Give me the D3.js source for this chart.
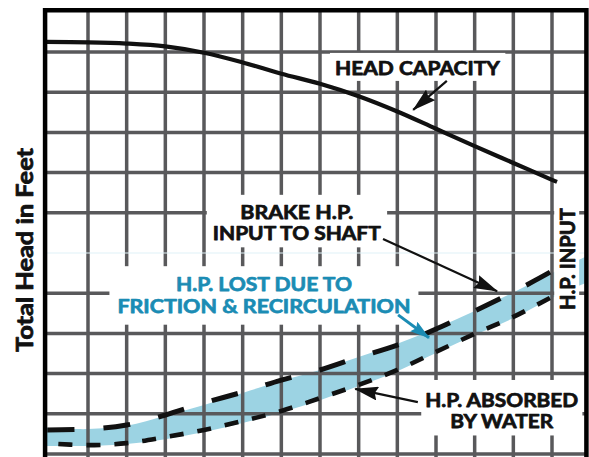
<!DOCTYPE html>
<html><head><meta charset="utf-8">
<script src="https://cdn.jsdelivr.net/npm/d3@7"></script>
<style>html,body{margin:0;padding:0;background:#fff}svg{display:block}</style>
</head><body><svg id="c" width="589" height="457"></svg>
<script>
// ---- data (x = flow in grid units, y = head in grid units) ----
const headFlow      = [-1.1, 0, 1, 2, 3, 4, 5, 6, 7, 8, 9, 10, 11, 12, 12.13];
const headCapacity  = [10.25, 10.24, 10.21, 10.14, 9.98, 9.74, 9.46, 9.21, 8.90, 8.52, 8.09, 7.66, 7.24, 6.82, 6.77];
const brakeFlow     = [-1.1, 0, 1, 2, 3, 4, 5, 6, 7, 8, 9, 10, 11, 12, 12.08];
const brakeHP       = [0.60, 0.62, 0.72, 0.97, 1.27, 1.54, 1.84, 2.09, 2.41, 2.71, 3.11, 3.56, 4.03, 4.55, 4.60];
const waterFlow     = [-1.1, 0, 1, 2, 3, 4, 5, 6, 7, 8, 9, 10, 11, 12];
const waterHP       = [0.27, 0.22, 0.27, 0.42, 0.60, 0.82, 1.07, 1.39, 1.72, 2.09, 2.54, 2.99, 3.41, 3.91];
const lostFlow      = [-1.1, 0, 1, 2, 3, 4, 5, 6, 7, 8, 9, 10, 11, 12, 12.85];
const lostUpper     = [0.65, 0.62, 0.70, 0.95, 1.22, 1.52, 1.82, 2.09, 2.41, 2.74, 3.13, 3.56, 4.02, 4.50, 4.90];
const lostLower     = [0.20, 0.20, 0.25, 0.37, 0.55, 0.77, 1.04, 1.34, 1.69, 2.06, 2.51, 2.96, 3.38, 3.88, 4.25];
const gridX = [0,1,2,3,4,5,6,7,8,9,10,11,12];
const gridY = [0,1,2,3,4,6,7,8,9,10];
const faintY = [5];
const yAxisLabel = "Total Head in Feet";

const svg = d3.select('#c');
const x = d3.scaleLinear().domain([0, 12]).range([88, 552]);
const y = d3.scaleLinear().domain([0, 10]).range([454, 52]);
const frame = {x0: -1.11, x1: 12.89, y0: -0.1, y1: 11.04};
const L = x(frame.x0), R = x(frame.x1), T = y(frame.y1), B = y(frame.y0);

svg.append('rect').attr('width',589).attr('height',457).attr('fill','#fff');
const defs = svg.append('defs');
defs.append('clipPath').attr('id','plot').append('rect')
  .attr('x',L).attr('y',T).attr('width',R-L).attr('height',B-T);
function marker(id, color, w, h){
  defs.append('marker').attr('id',id).attr('viewBox',`0 0 ${w} ${h}`)
    .attr('refX',w-1).attr('refY',h/2).attr('markerWidth',w).attr('markerHeight',h)
    .attr('markerUnits','userSpaceOnUse').attr('orient','auto')
    .append('path').attr('d',`M0,0 L${w},${h/2} L0,${h} L3,${h/2} Z`).attr('fill',color);
}
marker('ahk','#111', 24, 14);
marker('ahb','#1b8cb4', 20, 12);

const g = svg.append('g').attr('clip-path','url(#plot)');
const zip = (xs, ys) => xs.map((v,i)=>[v, ys[i]]);

// band
g.append('path')
  .datum(lostFlow.map((v,i)=>({x:v, hi:lostUpper[i], lo:lostLower[i]})))
  .attr('fill','#9cd3e3')
  .attr('d', d3.area().x(d=>x(d.x)).y0(d=>y(d.lo)).y1(d=>y(d.hi)).curve(d3.curveCatmullRom.alpha(0.5)));

// grid
g.selectAll('.vg').data(gridX).join('line')
  .attr('x1',d=>x(d)).attr('x2',d=>x(d)).attr('y1',T).attr('y2',B+5)
  .attr('stroke','#59595b').attr('stroke-width',3.5);
g.selectAll('.hg').data(gridY).join('line')
  .attr('y1',d=>y(d)).attr('y2',d=>y(d)).attr('x1',L).attr('x2',R)
  .attr('stroke','#59595b').attr('stroke-width',3.5);
g.selectAll('.fg').data(faintY).join('line')
  .attr('y1',d=>y(d)).attr('y2',d=>y(d)).attr('x1',L).attr('x2',R)
  .attr('stroke','#dff2f8').attr('stroke-width',1.2);

// curves
const line = d3.line().x(d=>x(d[0])).y(d=>y(d[1])).curve(d3.curveCatmullRom.alpha(0.5));
g.append('path').datum(zip(headFlow, headCapacity)).attr('d',line)
  .attr('fill','none').attr('stroke','#111').attr('stroke-width',4.2);
g.append('path').datum(zip(brakeFlow, brakeHP)).attr('d',line)
  .attr('fill','none').attr('stroke','#111').attr('stroke-width',5)
  .attr('stroke-dasharray','27,29').attr('stroke-dashoffset',-2);
g.append('path').datum(zip(waterFlow, waterHP)).attr('d',line)
  .attr('fill','none').attr('stroke','#111').attr('stroke-width',4.6)
  .attr('stroke-dasharray','14,14').attr('stroke-dashoffset',-13);

// frame
svg.append('path').attr('d',`M${L},${B} V${T} H${R} V${B}`)
  .attr('fill','none').attr('stroke','#000').attr('stroke-width',4.5)
  .attr('stroke-linejoin','miter');

// labels
const FONT = 'Lato, "Liberation Sans", Arial, sans-serif';
function styleText(sel, color, size){
  return sel.attr('font-family',FONT).attr('font-weight',700).attr('font-size',size)
    .attr('fill',color).attr('stroke',color).attr('stroke-width',0.75)
    .attr('stroke-linejoin','round').attr('lengthAdjust','spacingAndGlyphs');
}
const labels = [
  {lines:["HEAD CAPACITY"], cx:8.52, by:9.43, len:[165], color:'#111', pad:[5,3,2]},
  {lines:["BRAKE H.P.","INPUT TO SHAFT"], cx:5.40, by:5.85, len:[113,168], color:'#111', pad:[6,5,3]},
  {lines:["H.P. LOST DUE TO","FRICTION & RECIRCULATION"], cx:4.55, by:4.05, len:[176,293], color:'#1b8cb4', pad:[8,6,8]},
  {lines:["H.P. ABSORBED","BY WATER"], cx:10.70, by:1.17, len:[153,103], color:'#111', pad:[4,8,3]},
];
const lineGap = 21.5;
labels.forEach(lb=>{
  const grp = svg.append('g');
  const bg = grp.append('rect').attr('fill','#fff');
  lb.lines.forEach((t,i)=>{
    styleText(grp.append('text').text(t)
      .attr('x', x(lb.cx)).attr('y', y(lb.by)+i*lineGap)
      .attr('text-anchor','middle'), lb.color, 19.5)
      .attr('textLength',lb.len[i]);
  });
  const bb = grp.node().getBBox();
  bg.attr('x',bb.x-lb.pad[0]).attr('y',bb.y-lb.pad[1]).attr('width',bb.width+2*lb.pad[0]).attr('height',bb.height+lb.pad[1]+lb.pad[2]);
});
// rotated H.P. INPUT
{
  const grp = svg.append('g').attr('transform',`translate(${x(12.6)},${y(4.85)}) rotate(-90)`);
  const bg = grp.append('rect').attr('fill','#fff');
  styleText(grp.append('text').text('H.P. INPUT').attr('text-anchor','middle'), '#111', 20)
    .attr('textLength',102);
  const bb = grp.node().getBBox();
  bg.attr('x',bb.x-6).attr('y',bb.y-1).attr('width',bb.width+12).attr('height',bb.height+1);
}
// y-axis label
styleText(svg.append('text').text(yAxisLabel)
  .attr('transform',`translate(33,250) rotate(-90)`).attr('text-anchor','middle'), '#111', 22)
  .attr('textLength',204);

// arrows (data coordinates)
const arrows = [
  {from:[9.28,9.28], to:[8.41,8.56], m:'ahk', c:'#111'},
  {from:[7.63,5.35], to:[10.58,4.05], m:'ahk', c:'#111'},
  {from:[8.53,1.29], to:[6.91,1.62], m:'ahk', c:'#111'},
  {from:[8.02,3.46], to:[8.82,2.89], m:'ahb', c:'#1b8cb4'},
];
arrows.forEach(a=>{
  svg.append('line').attr('x1',x(a.from[0])).attr('y1',y(a.from[1]))
    .attr('x2',x(a.to[0])).attr('y2',y(a.to[1]))
    .attr('stroke',a.c).attr('stroke-width',a.m==='ahb'?3:2.2).attr('marker-end',`url(#${a.m})`);
});
</script></body></html>
